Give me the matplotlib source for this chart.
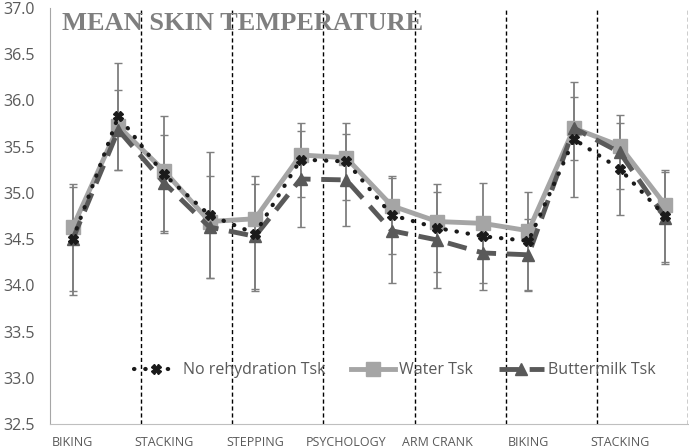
import matplotlib.pyplot as plt
import numpy as np

# categories (tick labels only on every other one)
labels = ["BIKING", "", "STACKING", "", "STEPPING", "", "PSYCHOLOGY", "",
          "ARM CRANK", "", "BIKING", "", "STACKING", ""]

no_rehyd = [34.50, 35.83, 35.20, 34.76, 34.56, 35.36, 35.34, 34.76, 34.62, 34.53, 34.48, 35.58, 35.26, 34.75]
no_rehyd_err = [0.60, 0.58, 0.63, 0.68, 0.62, 0.40, 0.42, 0.42, 0.48, 0.58, 0.53, 0.62, 0.50, 0.50]

water = [34.63, 35.72, 35.24, 34.69, 34.72, 35.41, 35.38, 34.86, 34.69, 34.67, 34.59, 35.70, 35.51, 34.87]

buttermilk = [34.50, 35.68, 35.11, 34.63, 34.53, 35.15, 35.14, 34.59, 34.49, 34.35, 34.33, 35.70, 35.44, 34.73]
buttermilk_err = [0.56, 0.43, 0.52, 0.55, 0.57, 0.52, 0.50, 0.57, 0.52, 0.32, 0.39, 0.34, 0.40, 0.50]

sep_lines = [1.5, 3.5, 5.5, 7.5, 9.5, 11.5, 13.5]

grey_txt = "#595959"
x = np.arange(len(labels))

fig = plt.figure(figsize=(6.89, 4.48), dpi=100)
ax = fig.add_axes([0.0726, 0.0536, 0.9259, 0.9286])

for xv in sep_lines:
    ax.axvline(xv, color="black", linewidth=1, linestyle=(0, (3, 2)), zorder=1)

# error bars
ax.errorbar(x, no_rehyd, yerr=no_rehyd_err, fmt="none", ecolor="#7f7f7f",
            elinewidth=1.3, capsize=2.6, capthick=1, zorder=2)
ax.errorbar(x, buttermilk, yerr=buttermilk_err, fmt="none", ecolor="#7f7f7f",
            elinewidth=1.3, capsize=2.6, capthick=1, zorder=2)

ax.plot(x, no_rehyd, color="#1a1a1a", linewidth=3, linestyle=(0, (0.1, 2.6)),
        dash_capstyle="round", marker="X", markersize=7, zorder=5,
        label="No rehydration Tsk")
ax.plot(x, water, color="#a5a5a5", linewidth=3.5, marker="s", markersize=10,
        zorder=3, label="Water Tsk")
ax.plot(x, buttermilk, color="#595959", linewidth=3.5, linestyle=(0, (4, 2.2)),
        marker="^", markersize=9, zorder=4, label="Buttermilk Tsk")

ax.set_xlim(-0.5, 13.5)
ax.set_ylim(32.5, 37.0)
ax.set_yticks(np.arange(32.5, 37.01, 0.5))
ax.set_yticklabels([f"{v:.1f}" for v in np.arange(32.5, 37.01, 0.5)],
                   fontsize=11.5, color=grey_txt, family="Open Sans")
ax.set_xticks(x)
ax.set_xticklabels(labels, fontsize=9, color=grey_txt, family="Open Sans")
ax.tick_params(axis="both", length=0)
ax.tick_params(axis="y", pad=11)
ax.tick_params(axis="x", pad=9)

for s in ["top", "right"]:
    ax.spines[s].set_visible(False)
ax.spines["left"].set_color("#a6a6a6")
ax.spines["bottom"].set_color("#bfbfbf")

ax.text(0.019, 0.963, "MEAN SKIN TEMPERATURE", transform=ax.transAxes,
        fontsize=19, fontweight="bold", family="Liberation Serif", color="#7f7f7f",
        va="center", ha="left")

leg = ax.legend(loc="center", bbox_to_anchor=(0.54, 0.129), ncol=3, frameon=False,
                handlelength=2.8, handletextpad=0.25, columnspacing=1.6,
                prop={"family": "Open Sans", "size": 11.5})
for t in leg.get_texts():
    t.set_color(grey_txt)

fig.savefig("out.png", dpi=100)
